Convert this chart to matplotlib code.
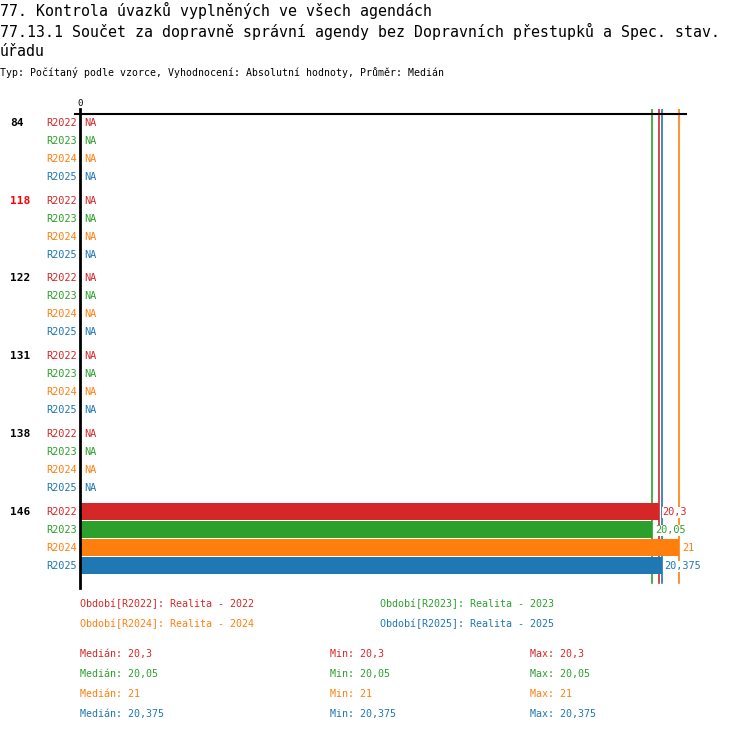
import numpy as np
import matplotlib.pyplot as plt

# data
groups = ['84', '118', '122', '131', '138', '146']
highlight = '118'
periods = ['R2022', 'R2023', 'R2024', 'R2025']
period_names = ['Realita - 2022', 'Realita - 2023', 'Realita - 2024', 'Realita - 2025']
colors = ['#d62728', '#2ca02c', '#ff7f0e', '#1f77b4']
r2022 = [np.nan, np.nan, np.nan, np.nan, np.nan, 20.3]
r2023 = [np.nan, np.nan, np.nan, np.nan, np.nan, 20.05]
r2024 = [np.nan, np.nan, np.nan, np.nan, np.nan, 21.0]
r2025 = [np.nan, np.nan, np.nan, np.nan, np.nan, 20.375]
series = [r2022, r2023, r2024, r2025]

title1 = '77. Kontrola úvazků vyplněných ve všech agendách'
title2 = '77.13.1 Součet za dopravně správní agendy bez Dopravních přestupků a Spec. stav.'
title3 = 'úřadu'
subtitle = 'Typ: Počítaný podle vzorce, Vyhodnocení: Absolutní hodnoty, Průměr: Medián'

W, H = 750, 732
mono = 'DejaVu Sans Mono'


def cz(v):
    return ('%g' % v).replace('.', ',')


def fx(x):
    return x / W


def fy(y):
    return 1 - y / H


fig = plt.figure(figsize=(W / 100, H / 100), dpi=100)

# titulky
fig.text(fx(0), fy(10), title1, family=mono, fontsize=10.75, va='center')
fig.text(fx(0), fy(31), title2, family=mono, fontsize=10.75, va='center')
fig.text(fx(0), fy(52), title3, family=mono, fontsize=10.75, va='center')
fig.text(fx(0), fy(73), subtitle, family=mono, fontsize=7.15, va='center')

# oblast grafu: x = hodnota, y = pixelová pozice řádku
x0, x1 = 80, 686
scale = 28.54
ytop, ybot = 109, 588
ax = fig.add_axes([fx(x0), fy(ybot), (x1 - x0) / W, (ybot - ytop) / H])
ax.set_xlim(0, (x1 - x0) / scale)
ax.set_ylim(ybot, ytop)
ax.axis('off')

row_h = 18
group_h = 78
bar_h = 17

# mediány
medians = [np.nanmedian(s) for s in series]
for m, c in zip(medians, colors):
    ax.plot([m, m], [109, 583], color=c, lw=1.2, zorder=1)

for g, name in enumerate(groups):
    yg = 122.5 + g * group_h
    gcol = 'red' if name == highlight else 'black'
    ax.text(-70 / scale, yg, name, family=mono, fontsize=8, fontweight='bold',
            color=gcol, ha='left', va='center', clip_on=False)
    for p in range(len(periods)):
        y = yg + p * row_h
        v = series[p][g]
        c = colors[p]
        ax.text(-3 / scale, y, periods[p], family=mono, fontsize=7.4, color=c,
                ha='right', va='center', clip_on=False)
        if np.isnan(v):
            ax.text(4 / scale, y, 'NA', family=mono, fontsize=7.4, color=c,
                    ha='left', va='center', zorder=3)
        else:
            ax.barh(y - 1, v, height=bar_h, color=c, zorder=2)
            ax.text(v + 3 / scale, y, cz(v), family=mono, fontsize=7.4, color=c,
                    ha='left', va='center', zorder=3,
                    bbox=dict(facecolor='white', edgecolor='none', pad=0.5))

# osy
ax.plot([-5 / scale, (x1 - x0) / scale], [114, 114], color='black', lw=1.5,
        clip_on=False, zorder=4)
ax.plot([0, 0], [109, ybot], color='black', lw=2, clip_on=False, zorder=4)
ax.text(0, 103, '0', family=mono, fontsize=6.5, ha='center', va='center',
        clip_on=False)

# legenda
leg_pos = [(80, 604), (380, 604), (80, 624), (380, 624)]
for (lx, ly), per, nm, c in zip(leg_pos, periods, period_names, colors):
    fig.text(fx(lx), fy(ly), 'Období[%s]: %s' % (per, nm), family=mono,
             fontsize=7.2, color=c, va='center')

# statistiky
for i, (s, c) in enumerate(zip(series, colors)):
    y = 654 + i * 20
    fig.text(fx(80), fy(y), 'Medián: ' + cz(np.nanmedian(s)), family=mono,
             fontsize=7.2, color=c, va='center')
    fig.text(fx(330), fy(y), 'Min: ' + cz(np.nanmin(s)), family=mono,
             fontsize=7.2, color=c, va='center')
    fig.text(fx(530), fy(y), 'Max: ' + cz(np.nanmax(s)), family=mono,
             fontsize=7.2, color=c, va='center')

fig.savefig('out.png', dpi=100)
